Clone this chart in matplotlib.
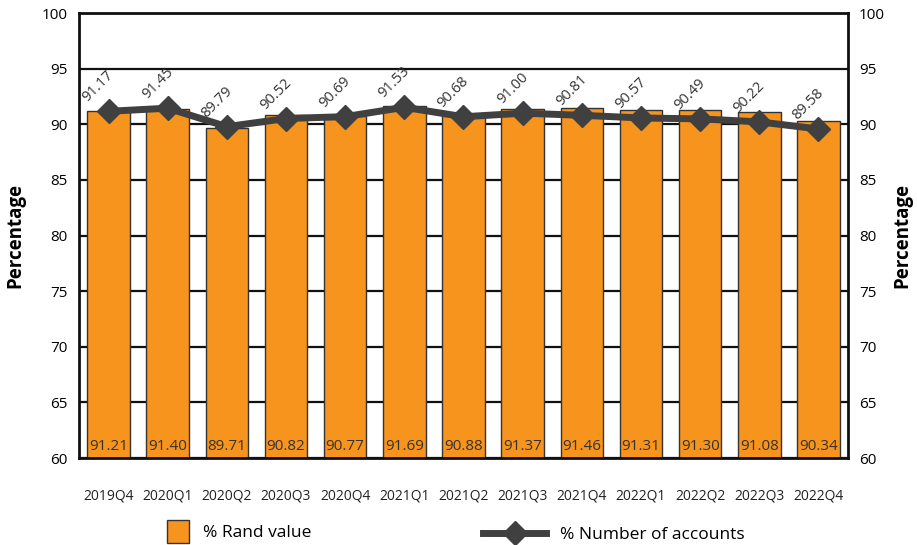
import matplotlib.pyplot as plt
from matplotlib.patches import Patch
from matplotlib.lines import Line2D

plt.rcParams["font.family"] = ["Open Sans", "DejaVu Sans"]

quarters = ["2019Q4", "2020Q1", "2020Q2", "2020Q3", "2020Q4", "2021Q1", "2021Q2",
            "2021Q3", "2021Q4", "2022Q1", "2022Q2", "2022Q3", "2022Q4"]
rand_value = [91.21, 91.40, 89.71, 90.82, 90.77, 91.69, 90.88,
              91.37, 91.46, 91.31, 91.30, 91.08, 90.34]
num_accounts = [91.17, 91.45, 89.79, 90.52, 90.69, 91.53, 90.68,
                91.00, 90.81, 90.57, 90.49, 90.22, 89.58]

orange = "#F7941D"
dark = "#404040"

fig = plt.figure(figsize=(9.17, 5.45), dpi=100)
ax = fig.add_axes([0.0861, 0.1596, 0.8387, 0.8164])

x = list(range(len(quarters)))
ax.bar(x, [v - 60 for v in rand_value], bottom=60, width=0.72,
       color=orange, edgecolor="#333333", linewidth=1.0, zorder=2)
ax.plot(x, num_accounts, color=dark, linewidth=5, marker="D", markersize=12,
        zorder=3)

# values of the bars, inside at the base
for i, v in enumerate(rand_value):
    ax.text(i, 60.35, f"{v:.2f}", ha="center", va="bottom", fontsize=11,
            color="#333333", zorder=4)
# slanted values of the line, above each marker
for i, v in enumerate(num_accounts):
    ax.annotate(f"{v:.2f}", (i, v), xytext=(-18, 6), textcoords="offset pixels",
                ha="left", va="bottom", fontsize=10.5, rotation=45,
                rotation_mode="anchor", color="#333333", zorder=4)

ax.set_xlim(-0.5, len(quarters) - 0.5)
ax.set_ylim(60, 100)
ax.set_yticks(range(60, 101, 5))
ax.yaxis.grid(True, color="#111111", linewidth=1.6, zorder=0)
ax.set_axisbelow(True)
ax.set_xticks(x)
ax.set_xticklabels(quarters, fontsize=10, color="#222222")
ax.tick_params(axis="both", length=0)
ax.tick_params(axis="x", pad=22)
ax.tick_params(axis="y", labelsize=11, pad=8)
for s in ax.spines.values():
    s.set_linewidth(2)
    s.set_color("#111111")
ax.set_ylabel("Percentage", fontsize=13.5, fontweight="bold", labelpad=12)

ax2 = ax.twinx()
ax2.set_ylim(60, 100)
ax2.set_yticks(range(60, 101, 5))
ax2.tick_params(axis="y", length=0, labelsize=11, pad=8)
ax2.set_ylabel("Percentage", fontsize=13.5, fontweight="bold", labelpad=5,
               rotation=90)
for s in ax2.spines.values():
    s.set_visible(False)

fig.legend(handles=[Patch(facecolor=orange, edgecolor="#333333", label="% Rand value")],
           loc="lower left", bbox_to_anchor=(0.165, -0.025), frameon=False,
           fontsize=12.5, handlelength=1.3, handleheight=1.7)
fig.legend(handles=[Line2D([], [], color=dark, linewidth=5, marker="D",
                           markersize=12, label="% Number of accounts")],
           loc="lower left", bbox_to_anchor=(0.51, -0.025), frameon=False,
           fontsize=12.5, handlelength=3.6)

fig.savefig("out.png", dpi=100)
